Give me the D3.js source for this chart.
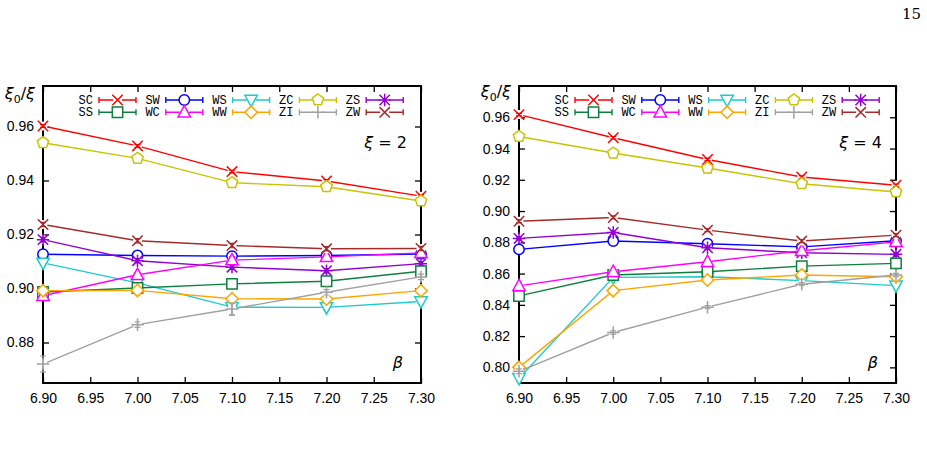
<!DOCTYPE html>
<html>
<head>
<meta charset="utf-8">
<script src="https://cdn.jsdelivr.net/npm/d3@7"></script>
<style>
  body { margin: 0; background: #fff; }
  svg { display: block; }
</style>
</head>
<body>
<svg id="chart" width="927" height="455"></svg>
<script>
// beta values (x axis) and tick labels
const betas = [6.90, 7.00, 7.10, 7.20, 7.30];
const xTicks = [6.90, 6.95, 7.00, 7.05, 7.10, 7.15, 7.20, 7.25, 7.30];
const yTicks2 = [0.88, 0.90, 0.92, 0.94, 0.96];
const yTicks4 = [0.80, 0.82, 0.84, 0.86, 0.88, 0.90, 0.92, 0.94, 0.96];

// legend order (row 1 then row 2)
const series = ["SC", "SW", "WS", "ZC", "ZS", "SS", "WC", "WW", "ZI", "ZW"];

// xi = 2
const xi2 = {
  SC: [0.9602, 0.9528, 0.9433, 0.9398, 0.9342],
  SW: [0.9127, 0.9122, 0.9120, 0.9122, 0.9128],
  WS: [0.9095, 0.9021, 0.8931, 0.8930, 0.8952],
  ZC: [0.9540, 0.9482, 0.9392, 0.9377, 0.9324],
  ZS: [0.9181, 0.9103, 0.9079, 0.9066, 0.9092],
  SS: [0.8987, 0.9002, 0.9017, 0.9027, 0.9064],
  WC: [0.8973, 0.9051, 0.9105, 0.9117, 0.9132],
  WW: [0.8992, 0.8993, 0.8962, 0.8961, 0.8992],
  ZI: [0.8720, 0.8866, 0.8924, 0.8986, 0.9043],
  ZW: [0.9237, 0.9177, 0.9159, 0.9147, 0.9148]
};
const err2 = {
  SC: [0.0005, 0.0005, 0.0005, 0.0005, 0.0005],
  SW: [0.0008, 0.0008, 0.0015, 0.0008, 0.0008],
  WS: [0.0008, 0.0010, 0.0030, 0.0008, 0.0008],
  ZC: [0.0005, 0.0005, 0.0005, 0.0005, 0.0005],
  ZS: [0.0008, 0.0008, 0.0008, 0.0008, 0.0008],
  SS: [0.0008, 0.0008, 0.0012, 0.0008, 0.0012],
  WC: [0.0008, 0.0008, 0.0012, 0.0008, 0.0008],
  WW: [0.0008, 0.0008, 0.0012, 0.0008, 0.0008],
  ZI: [0.0030, 0.0010, 0.0022, 0.0010, 0.0010],
  ZW: [0.0008, 0.0008, 0.0008, 0.0008, 0.0008]
};

// xi = 4
const xi4 = {
  SC: [0.9617, 0.9469, 0.9330, 0.9218, 0.9165],
  SW: [0.8755, 0.8808, 0.8791, 0.8771, 0.8810],
  WS: [0.7930, 0.8576, 0.8580, 0.8555, 0.8523],
  ZC: [0.9477, 0.9371, 0.9275, 0.9175, 0.9122],
  ZS: [0.8825, 0.8863, 0.8765, 0.8733, 0.8723],
  SS: [0.8457, 0.8591, 0.8612, 0.8648, 0.8665],
  WC: [0.8521, 0.8612, 0.8676, 0.8746, 0.8803],
  WW: [0.8000, 0.8491, 0.8559, 0.8591, 0.8580],
  ZI: [0.7975, 0.8223, 0.8385, 0.8532, 0.8591],
  ZW: [0.8935, 0.8959, 0.8878, 0.8808, 0.8846]
};
const err4 = {
  SC: [0.0008, 0.0008, 0.0008, 0.0008, 0.0008],
  SW: [0.0010, 0.0010, 0.0010, 0.0010, 0.0010],
  WS: [0.0020, 0.0015, 0.0010, 0.0010, 0.0010],
  ZC: [0.0008, 0.0008, 0.0008, 0.0008, 0.0008],
  ZS: [0.0010, 0.0010, 0.0010, 0.0010, 0.0010],
  SS: [0.0015, 0.0010, 0.0010, 0.0010, 0.0010],
  WC: [0.0010, 0.0010, 0.0010, 0.0010, 0.0010],
  WW: [0.0015, 0.0010, 0.0010, 0.0010, 0.0010],
  ZI: [0.0015, 0.0010, 0.0010, 0.0010, 0.0010],
  ZW: [0.0010, 0.0010, 0.0010, 0.0010, 0.0010]
};

// estilos de cada serie
const estilo = {
  SC: {color: "#ff0000", mark: "x"},
  SW: {color: "#0000ff", mark: "circle"},
  WS: {color: "#1ecbcb", mark: "tdown"},
  ZC: {color: "#c8c400", mark: "pent"},
  ZS: {color: "#9400d3", mark: "star"},
  SS: {color: "#0e7f3e", mark: "square"},
  WC: {color: "#ff00ff", mark: "tup"},
  WW: {color: "#ffa500", mark: "diamond"},
  ZI: {color: "#a0a0a0", mark: "plus"},
  ZW: {color: "#a52a2a", mark: "x"}
};

function markerPath(type) {
  const s = 5.2;
  if (type === "x") return `M${-s},${-s}L${s},${s}M${-s},${s}L${s},${-s}`;
  if (type === "plus") return `M${-s-1},0H${s+1}M0,${-s-1}V${s+1}`;
  if (type === "star") return `M${-s},${-s}L${s},${s}M${-s},${s}L${s},${-s}M${-s-1},0H${s+1}M0,${-s-1}V${s+1}`;
  if (type === "circle") return d3.symbol(d3.symbolCircle, Math.PI * 5.2 * 5.2)();
  if (type === "square") return `M${-s},${-s}H${s}V${s}H${-s}Z`;
  if (type === "tup") return `M0,${-s-1.5}L${s+1},${s-0.5}L${-s-1},${s-0.5}Z`;
  if (type === "tdown") return `M0,${s+1.5}L${s+1},${-s+0.5}L${-s-1},${-s+0.5}Z`;
  if (type === "diamond") return `M0,${-s-1}L${s+1},0L0,${s+1}L${-s-1},0Z`;
  if (type === "pent") {
    const r = s + 0.8;
    const pts = d3.range(5).map(i => {
      const a = -Math.PI / 2 + i * 2 * Math.PI / 5;
      return [r * Math.cos(a), r * Math.sin(a)];
    });
    return "M" + pts.map(p => p.join(",")).join("L") + "Z";
  }
}

const svg = d3.select("#chart");

// número de página
svg.append("text").attr("x", 921).attr("y", 19).attr("text-anchor", "end")
  .attr("font-family", "DejaVu Serif, Liberation Serif, serif").attr("font-size", 15).text("15");

const paneles = [
  {vals: xi2, err: err2, left: 43, right: 421, dom: [0.865, 0.975], yTicks: yTicks2, etiqueta: "2", ylabY: 99},
  {vals: xi4, err: err4, left: 519, right: 896, dom: [0.79, 0.98], yTicks: yTicks4, etiqueta: "4", ylabY: 97}
];
const yTop = 86, yBottom = 383;

paneles.forEach(p => drawPanel(p));

function drawPanel(p) {
  const g = svg.append("g");
  const x = d3.scaleLinear().domain([6.9, 7.3]).range([p.left, p.right]);
  const y = d3.scaleLinear().domain(p.dom).range([yBottom, yTop]);
  const fmt = d3.format(".2f");

  // ejes (ticks hacia dentro, con espejo)
  const ax = g.append("g").attr("font-family", "Liberation Sans, Arial, sans-serif");
  ax.append("g").attr("transform", `translate(0,${yBottom})`)
    .call(d3.axisBottom(x).tickValues(xTicks).tickFormat(fmt).tickSizeInner(-6).tickSizeOuter(0).tickPadding(10));
  ax.append("g").attr("transform", `translate(0,${yTop})`)
    .call(d3.axisTop(x).tickValues(xTicks).tickFormat("").tickSizeInner(-6).tickSizeOuter(0));
  ax.append("g").attr("transform", `translate(${p.left},0)`)
    .call(d3.axisLeft(y).tickValues(p.yTicks).tickFormat(fmt).tickSizeInner(-6).tickSizeOuter(0).tickPadding(9));
  ax.append("g").attr("transform", `translate(${p.right},0)`)
    .call(d3.axisRight(y).tickValues(p.yTicks).tickFormat("").tickSizeInner(-6).tickSizeOuter(0));
  ax.selectAll(".domain").remove();
  ax.selectAll(".tick line").attr("stroke", "#000").attr("stroke-width", 1.3);
  ax.selectAll(".tick text").attr("font-size", 14).attr("fill", "#000");

  g.append("rect").attr("x", p.left).attr("y", yTop)
    .attr("width", p.right - p.left).attr("height", yBottom - yTop)
    .attr("fill", "none").attr("stroke", "#000").attr("stroke-width", 2);

  const line = d3.line().x((d, i) => x(betas[i])).y(d => y(d));

  // líneas y puntos
  series.forEach(name => {
    const st = estilo[name];
    const vals = p.vals[name];
    const errs = p.err[name];
    const sg = g.append("g");
    sg.append("path").datum(vals)
      .attr("fill", "none").attr("stroke", st.color).attr("stroke-width", 1.4)
      .attr("d", line);
    vals.forEach((v, i) => {
      const cx = x(betas[i]);
      const e = errs[i];
      sg.append("circle").attr("cx", cx).attr("cy", y(v)).attr("r", 4.5).attr("fill", "#fff");
      sg.append("path")
        .attr("d", `M${cx},${y(v - e)}V${y(v + e)}M${cx - 3},${y(v - e)}H${cx + 3}M${cx - 3},${y(v + e)}H${cx + 3}`)
        .attr("stroke", st.color).attr("stroke-width", 1.2).attr("fill", "none");
      sg.append("path").attr("d", markerPath(st.mark))
        .attr("transform", `translate(${cx},${y(v)})`)
        .attr("fill", st.mark === "x" || st.mark === "plus" || st.mark === "star" ? "none" : "#fff")
        .attr("stroke", st.color).attr("stroke-width", 1.5);
    });
  });

  // leyenda
  const leg = g.append("g");
  series.forEach((name, k) => {
    const st = estilo[name];
    const col = k % 5, row = Math.floor(k / 5);
    const x0 = p.left + 56 + col * 66.8;
    const yy = 100 + row * 12.3;
    leg.append("text").attr("x", x0 - 6).attr("y", yy + 4)
      .attr("text-anchor", "end").attr("font-family", "Liberation Mono, Courier New, monospace")
      .attr("font-size", 12).attr("fill", "#000").text(name);
    leg.append("path")
      .attr("d", `M${x0},${yy}H${x0 + 37}M${x0},${yy - 3}V${yy + 3}M${x0 + 37},${yy - 3}V${yy + 3}`)
      .attr("stroke", st.color).attr("stroke-width", 1.4).attr("fill", "none");
    leg.append("circle").attr("cx", x0 + 18.5).attr("cy", yy).attr("r", 4.5).attr("fill", "#fff");
    leg.append("path").attr("d", markerPath(st.mark))
      .attr("transform", `translate(${x0 + 18.5},${yy})`)
      .attr("fill", st.mark === "x" || st.mark === "plus" || st.mark === "star" ? "none" : "#fff")
      .attr("stroke", st.color).attr("stroke-width", 1.5);
  });

  // etiquetas de ejes
  const ylab = g.append("text").attr("x", p.left - 8).attr("y", p.ylabY).attr("text-anchor", "end")
    .attr("font-family", "DejaVu Sans, sans-serif").attr("font-size", 16);
  ylab.append("tspan").attr("font-style", "italic").text("ξ");
  ylab.append("tspan").attr("font-size", 11).attr("dy", 4).text("0");
  ylab.append("tspan").attr("dy", -4).text("/");
  ylab.append("tspan").attr("font-style", "italic").text("ξ");

  const xiLab = g.append("text").attr("x", p.right - 14).attr("y", 148).attr("text-anchor", "end")
    .attr("font-family", "DejaVu Sans, sans-serif").attr("font-size", 16);
  xiLab.append("tspan").attr("font-style", "italic").text("ξ");
  xiLab.append("tspan").text(" = " + p.etiqueta);

  g.append("text").attr("x", p.right - 18).attr("y", 368).attr("text-anchor", "end")
    .attr("font-family", "DejaVu Sans, sans-serif").attr("font-size", 16).attr("font-style", "italic").text("β");
}
</script>
</body>
</html>
